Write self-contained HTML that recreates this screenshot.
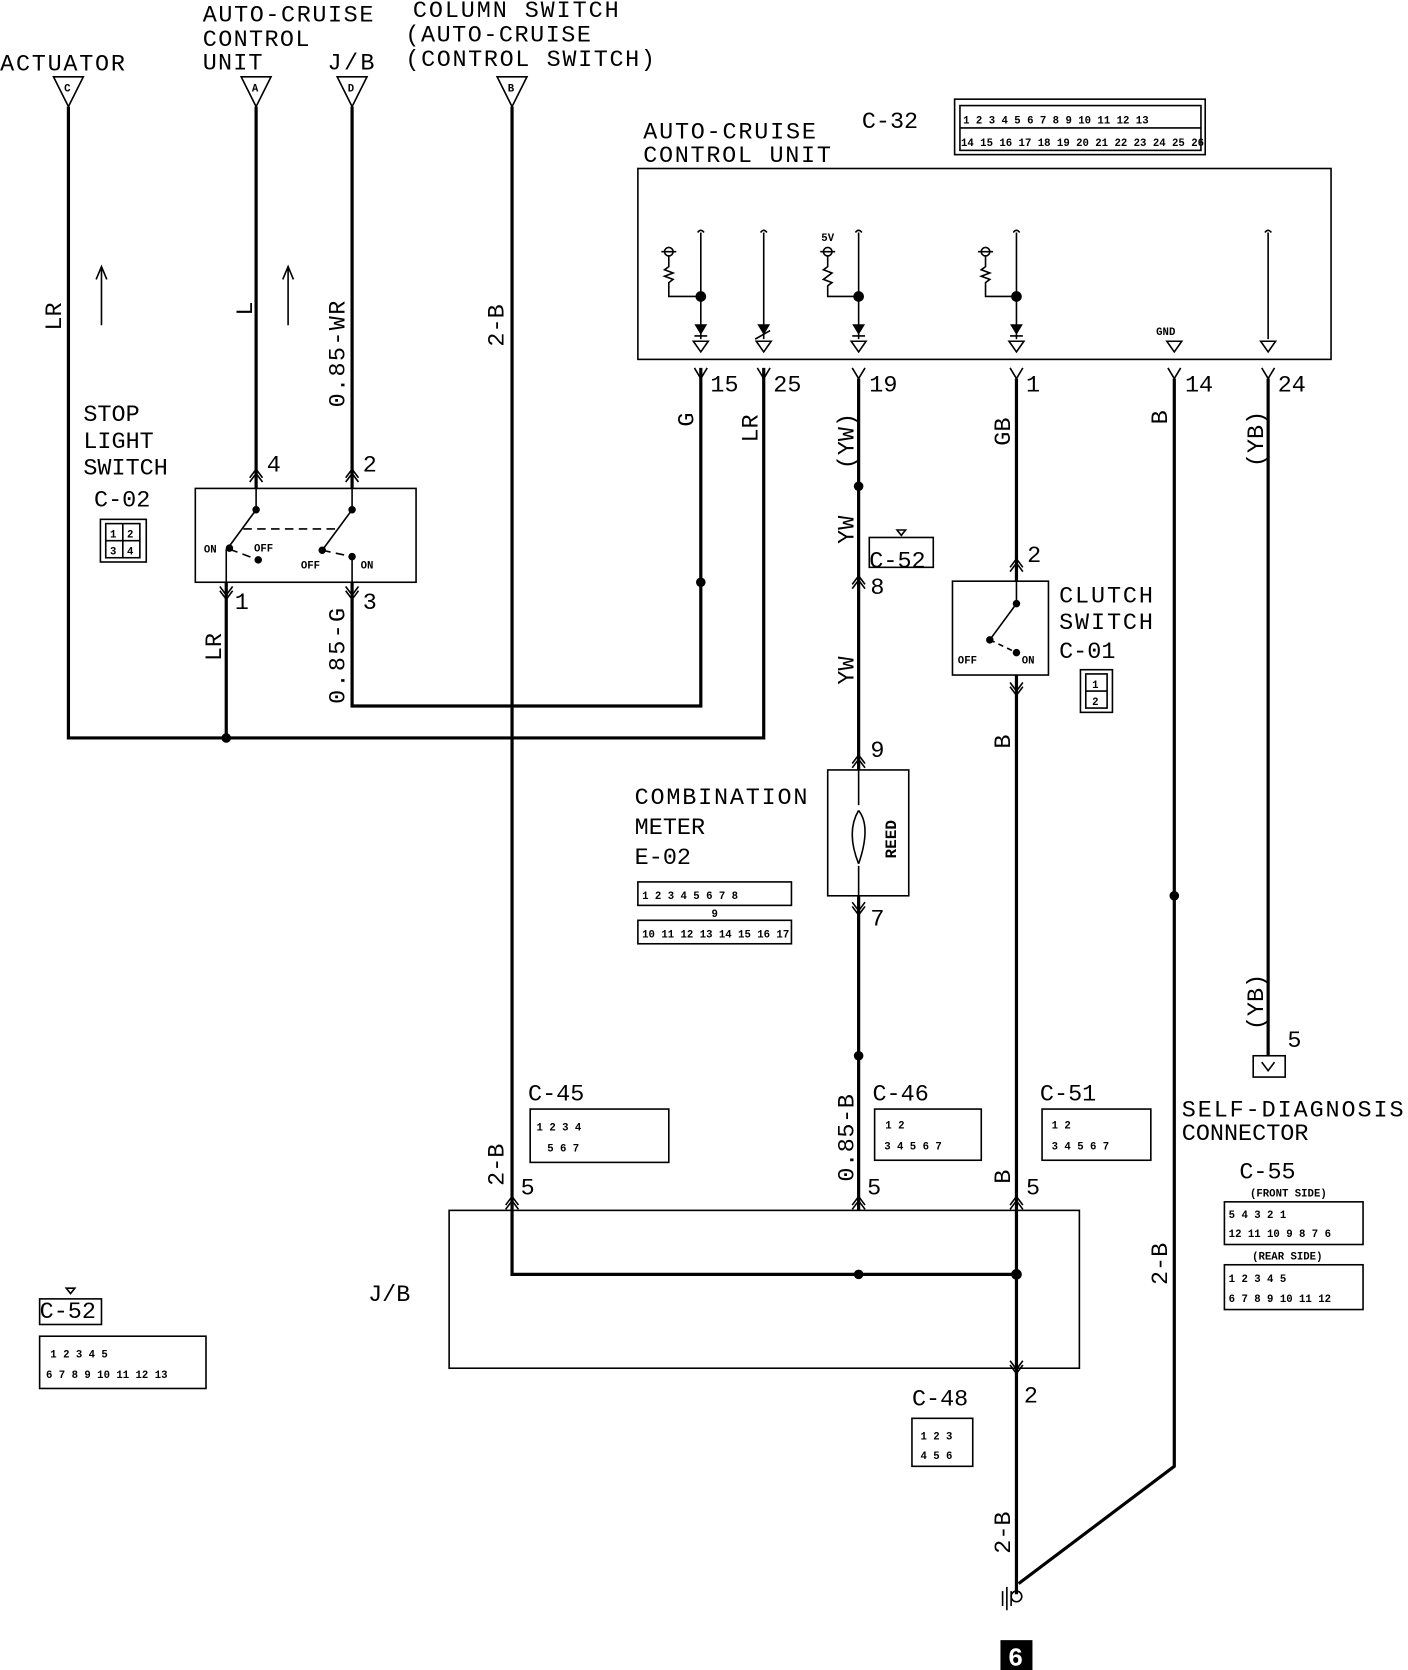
<!DOCTYPE html>
<html><head><meta charset="utf-8"><style>
html,body{margin:0;padding:0;background:#fff}
svg{display:block}
text{font-family:"Liberation Mono","DejaVu Sans Mono",monospace;fill:#000}
.t{font-size:22px}
.s{font-size:10px;font-weight:bold}
.w{stroke:#000;stroke-width:3;fill:none}
.n{stroke:#000;stroke-width:1.5;fill:none}
</style></head><body>
<svg width="1408" height="1670" viewBox="0 0 1320 1566" xmlns="http://www.w3.org/2000/svg">
<rect width="1320" height="1566" fill="#fff"/>
<!-- top labels -->
<text class="t" x="0" y="66" textLength="117">ACTUATOR</text>
<text class="t" x="190" y="20" textLength="160">AUTO-CRUISE</text>
<text class="t" x="190" y="43" textLength="100">CONTROL</text>
<text class="t" x="190" y="65" textLength="56">UNIT</text>
<text class="t" x="307" y="65" textLength="44">J/B</text>
<text class="t" x="387" y="16" textLength="193">COLUMN SWITCH</text>
<text class="t" x="380" y="39" textLength="174">(AUTO-CRUISE</text>
<text class="t" x="380" y="62" textLength="234">(CONTROL SWITCH)</text>
<!-- top triangles -->
<g class="n" stroke-width="2">
<path d="M50,72 L78,72 L64,100 Z"/><path d="M226,72 L254,72 L240,100 Z"/><path d="M316,72 L344,72 L330,100 Z"/><path d="M466,72 L494,72 L480,100 Z"/>
</g>
<text class="s" x="60" y="86">C</text><text class="s" x="236" y="86">A</text><text class="s" x="326" y="86">D</text><text class="s" x="476" y="86">B</text>
<!-- wires left -->
<path class="w" d="M64,100 V692 H716 V345"/>
<path class="w" d="M240,100 V458 M330,100 V458"/>
<path class="w" d="M480,100 V1135"/>
<path class="w" d="M212,546 V692 M330,546 V662 H657 V345"/>
<circle cx="212" cy="692" r="4.5"/><circle cx="657" cy="546" r="4.5"/>
<!-- rotated labels -->
<g class="t">
<text transform="translate(57,310) rotate(-90)">LR</text>
<text transform="translate(236,296) rotate(-90)">L</text>
<text transform="translate(323,382) rotate(-90)" textLength="100">0.85-WR</text>
<text transform="translate(472,325) rotate(-90)">2-B</text>
<text transform="translate(207,620) rotate(-90)">LR</text>
<text transform="translate(323,660) rotate(-90)" textLength="90">0.85-G</text>
<text transform="translate(650,400) rotate(-90)">G</text>
<text transform="translate(710,415) rotate(-90)">LR</text>
<text transform="translate(800,440) rotate(-90)">(YW)</text>
<text transform="translate(800,510) rotate(-90)">YW</text>
<text transform="translate(800,642) rotate(-90)">YW</text>
<text transform="translate(800,1108) rotate(-90)" textLength="82">0.85-B</text>
<text transform="translate(947,418) rotate(-90)">GB</text>
<text transform="translate(947,702) rotate(-90)">B</text>
<text transform="translate(947,1110) rotate(-90)">B</text>
<text transform="translate(1094,398) rotate(-90)">B</text>
<text transform="translate(1094,1205) rotate(-90)">2-B</text>
<text transform="translate(1184,438) rotate(-90)">(YB)</text>
<text transform="translate(1184,966) rotate(-90)">(YB)</text>
<text transform="translate(472,1112) rotate(-90)">2-B</text>
<text transform="translate(947,1457) rotate(-90)">2-B</text>
</g>
<!-- up arrows -->
<path class="n" d="M95,305 V250 M90,262 L95,250 L100,262 M270,305 V250 M265,262 L270,250 L275,262"/>
<!-- stop light switch -->
<text class="t" x="78" y="395">STOP</text>
<text class="t" x="78" y="420">LIGHT</text>
<text class="t" x="78" y="445">SWITCH</text>
<text class="t" x="88" y="475">C-02</text>
<rect class="n" x="94" y="487" width="43" height="40"/>
<rect class="n" x="99" y="491" width="32" height="32"/>
<path class="n" d="M99,507 H131 M115,491 V523"/>
<text class="s" x="103" y="504">1</text><text class="s" x="119" y="504">2</text><text class="s" x="103" y="520">3</text><text class="s" x="119" y="520">4</text>
<rect class="n" stroke-width="2" x="183" y="458" width="207" height="88"/>
<text class="t" x="250" y="442">4</text><text class="t" x="340" y="442">2</text>
<text class="t" x="220" y="571">1</text><text class="t" x="340" y="571">3</text>
<path class="n" d="M234,452 L240,444 L246,452 M234,448 L240,440 L246,448 M324,452 L330,444 L336,452 M324,448 L330,440 L336,448"/>
<path class="n" d="M206,550 L212,558 L218,550 M206,554 L212,562 L218,554 M324,550 L330,558 L336,550 M324,554 L330,562 L336,554"/>
<path class="n" stroke-width="2" d="M240,458 V478 L215,512 M212,515 V546 M330,458 V478 L302,516 M330,522 V546"/>
<path class="n" stroke-dasharray="8,5" d="M228,496 H315 M215,515 L242,525 M302,516 L330,522"/>
<circle cx="240" cy="478" r="3.5"/><circle cx="215" cy="514" r="3.5"/><circle cx="242" cy="525" r="3.5"/><circle cx="330" cy="478" r="3.5"/><circle cx="302" cy="516" r="3.5"/><circle cx="330" cy="522" r="3.5"/>
<text class="s" x="191" y="518">ON</text><text class="s" x="238" y="517">OFF</text><text class="s" x="282" y="533">OFF</text><text class="s" x="338" y="533">ON</text>
<!-- ACU -->
<text class="t" x="603" y="130" textLength="162">AUTO-CRUISE</text>
<text class="t" x="603" y="152" textLength="176">CONTROL UNIT</text>
<text class="t" x="808" y="120">C-32</text>
<rect class="n" stroke-width="2" x="895" y="93" width="235" height="52"/>
<rect class="n" x="900" y="99" width="226" height="42"/>
<path class="n" d="M900,120 H1126"/>
<g class="s" font-size="9">
<text x="903" y="116">1 2 3 4 5 6 7 8 9 10 11 12 13</text>
<text x="901" y="137">14 15 16 17 18 19 20 21 22 23 24 25 26</text>
</g>
<rect class="n" stroke-width="2" x="598" y="158" width="650" height="179"/>
<!-- internal circuits -->
<g class="n">
<path d="M657,218 V318 M716,218 V318 M805,218 V318 M953,218 V318 M1189,218 V318"/>
<path d="M654,218 q3,-4 6,0 M713,218 q3,-4 6,0 M802,218 q3,-4 6,0 M950,218 q3,-4 6,0 M1186,218 q3,-4 6,0"/>
<path d="M627,240 V250 l-4,3 l8,3 l-8,3 l8,3 l-4,3 V278 H657 M776,240 V250 l-4,3 l8,3 l-4,3 l-4,3 l8,3 l-4,3 V278 H805 M924,240 V250 l-4,3 l8,3 l-8,3 l8,3 l-4,3 V278 H953"/>
<circle cx="627" cy="236" r="4"/><circle cx="776" cy="236" r="4"/><circle cx="924" cy="236" r="4"/>
<path d="M620,236 H634 M769,236 H783 M917,236 H931"/>
<path d="M650,320 h14 l-7,10 Z M709,320 h14 l-7,10 Z M798,320 h14 l-7,10 Z M946,320 h14 l-7,10 Z M1094,320 h14 l-7,10 Z M1182,320 h14 l-7,10 Z"/>
</g>
<path d="M651,304 h12 l-6,10 Z M710,304 h12 l-6,10 Z M799,304 h12 l-6,10 Z M947,304 h12 l-6,10 Z"/>
<path class="n" stroke-width="2" d="M651,315 H663 M799,315 H811 M947,315 H959 M708,318 L722,310"/>
<circle cx="657" cy="278" r="5"/><circle cx="805" cy="278" r="5"/><circle cx="953" cy="278" r="5"/>
<text class="s" x="770" y="226">5V</text>
<text class="s" x="1084" y="314" font-size="12">GND</text>
<!-- pin Ys and labels -->
<path class="n" stroke-width="2" d="M651,345 L657,355 L663,345 M710,345 L716,355 L722,345 M799,345 L805,355 L811,345 M947,345 L953,355 L959,345 M1095,345 L1101,355 L1107,345 M1183,345 L1189,355 L1195,345"/>
<text class="t" x="666" y="367">15</text><text class="t" x="725" y="367">25</text><text class="t" x="815" y="367">19</text><text class="t" x="962" y="367">1</text><text class="t" x="1111" y="367">14</text><text class="t" x="1198" y="367">24</text>
<!-- YW wire -->
<path class="w" d="M805,355 V722 M805,840 V1135"/>
<circle cx="805" cy="456" r="4.5"/><circle cx="805" cy="990" r="4.5"/><circle cx="805" cy="1195" r="4.5"/>
<text class="t" x="815" y="532">C-52</text>
<rect class="n" x="815" y="504" width="60" height="28"/><path d="M841,497 h8 l-4,5 Z" class="n"/>
<path class="n" d="M799,548 L805,540 L811,548 M799,552 L805,544 L811,552"/>
<text class="t" x="816" y="557">8</text>
<path class="n" d="M799,716 L805,708 L811,716 M799,720 L805,712 L811,720"/>
<text class="t" x="816" y="710">9</text>
<rect class="n" stroke-width="2" x="776" y="722" width="76" height="118"/>
<path class="n" stroke-width="2" d="M805,760 q-12,20 0,50 M805,760 q12,15 0,50 M805,722 V755 M805,812 V840"/>
<text transform="translate(840,805) rotate(-90)" font-size="15" font-weight="bold">REED</text>
<path class="n" d="M799,846 L805,854 L811,846 M799,850 L805,858 L811,850"/>
<text class="t" x="816" y="868">7</text>
<text class="t" x="595" y="754" textLength="162">COMBINATION</text>
<text class="t" x="595" y="782">METER</text>
<text class="t" x="595" y="810">E-02</text>
<rect class="n" x="598" y="827" width="144" height="22"/><rect class="n" x="598" y="863" width="144" height="22"/>
<text class="s" x="602" y="843">1 2 3 4 5 6 7 8</text><text class="s" x="602" y="879">10 11 12 13 14 15 16 17</text><text class="s" x="667" y="860">9</text>
<!-- clutch -->
<path class="w" d="M953,355 V545 M953,633 V1495"/>
<path class="n" d="M947,532 L953,524 L959,532 M947,536 L953,528 L959,536"/>
<text class="t" x="963" y="527">2</text>
<rect class="n" stroke-width="2" x="893" y="545" width="90" height="88"/>
<path class="n" stroke-width="2" d="M953,545 V566 L928,600"/>
<path class="n" stroke-dasharray="5,4" d="M928,600 L953,612"/>
<circle cx="953" cy="566" r="3.5"/><circle cx="928" cy="600" r="3.5"/><circle cx="953" cy="612" r="3.5"/>
<text class="s" x="898" y="622">OFF</text><text class="s" x="958" y="622">ON</text>
<path class="n" d="M947,640 L953,648 L959,640 M947,644 L953,652 L959,644"/>
<text class="t" x="993" y="565" textLength="88">CLUTCH</text>
<text class="t" x="993" y="590" textLength="88">SWITCH</text>
<text class="t" x="993" y="617">C-01</text>
<rect class="n" x="1013" y="628" width="30" height="40"/>
<path class="n" d="M1018,632 h20 v32 h-20 Z M1018,648 h20"/>
<text class="s" x="1024" y="645">1</text><text class="s" x="1024" y="661">2</text>
<!-- B wire 14 -->
<path class="w" d="M1101,355 V1375 L955,1485"/>
<circle cx="1101" cy="840" r="4.5"/>
<!-- YB wire -->
<path class="w" d="M1189,355 V990"/>
<rect class="n" stroke-width="2" x="1175" y="990" width="30" height="20"/>
<path class="n" d="M1183,996 L1189,1004 L1195,996"/>
<text class="t" x="1207" y="982">5</text>
<text class="t" x="1108" y="1047" textLength="208">SELF-DIAGNOSIS</text>
<text class="t" x="1108" y="1069">CONNECTOR</text>
<text class="t" x="1162" y="1105">C-55</text>
<text class="s" x="1172" y="1122" font-size="8">(FRONT SIDE)</text>
<rect class="n" x="1148" y="1127" width="130" height="40"/>
<text class="s" x="1152" y="1142">5 4      3 2 1</text><text class="s" x="1152" y="1160">12 11 10 9 8 7 6</text>
<text class="s" x="1174" y="1181" font-size="8">(REAR SIDE)</text>
<rect class="n" x="1148" y="1186" width="130" height="42"/>
<text class="s" x="1152" y="1202">1 2 3     4 5</text><text class="s" x="1152" y="1221">6 7 8 9 10 11 12</text>
<!-- J/B -->
<rect class="n" stroke-width="2" x="421" y="1135" width="591" height="148"/>
<path class="w" d="M480,1135 V1195 H953"/>
<circle cx="953" cy="1195" r="5"/>
<text class="t" x="345" y="1220">J/B</text>
<path class="n" d="M474,1130 L480,1122 L486,1130 M474,1134 L480,1126 L486,1134 M799,1130 L805,1122 L811,1130 M799,1134 L805,1126 L811,1134 M947,1130 L953,1122 L959,1130 M947,1134 L953,1126 L959,1134 M947,1276 L953,1284 L959,1276 M947,1280 L953,1288 L959,1280"/>
<text class="t" x="488" y="1120">5</text><text class="t" x="813" y="1120">5</text><text class="t" x="962" y="1120">5</text><text class="t" x="960" y="1315">2</text>
<text class="t" x="495" y="1032">C-45</text>
<rect class="n" stroke-width="2" x="497" y="1040" width="130" height="50"/>
<text class="s" x="503" y="1060">1 2        3 4</text><text class="s" x="513" y="1080">5       6      7</text>
<text class="t" x="818" y="1032">C-46</text>
<rect class="n" stroke-width="2" x="820" y="1040" width="100" height="48"/>
<text class="s" x="830" y="1058">1           2</text><text class="s" x="829" y="1078">3 4 5 6 7</text>
<text class="t" x="975" y="1032">C-51</text>
<rect class="n" stroke-width="2" x="977" y="1040" width="102" height="48"/>
<text class="s" x="986" y="1058">1           2</text><text class="s" x="986" y="1078">3 4 5 6 7</text>
<text class="t" x="855" y="1318">C-48</text>
<rect class="n" stroke-width="2" x="855" y="1330" width="57" height="45"/>
<text class="s" x="863" y="1350">1 2 3</text><text class="s" x="863" y="1368">4 5 6</text>
<text class="t" x="37" y="1236">C-52</text>
<rect class="n" x="37" y="1218" width="58" height="24"/><path class="n" d="M62,1208 h8 l-4,5 Z"/>
<rect class="n" stroke-width="2" x="37" y="1253" width="156" height="49"/>
<text class="s" x="47" y="1273">1 2        3 4 5</text><text class="s" x="43" y="1292">6 7 8 9 10 11 12 13</text>
<!-- ground -->
<circle class="n" cx="953" cy="1497" r="5"/>
<path class="n" stroke-width="2" d="M940,1492 V1506 M944,1488 V1510 M948,1492 V1506"/>
<rect x="938" y="1538" width="30" height="28" fill="#000"/>
<text x="945" y="1562" font-size="24" font-weight="bold" style="fill:#fff">6</text>
</svg>
</body></html>
